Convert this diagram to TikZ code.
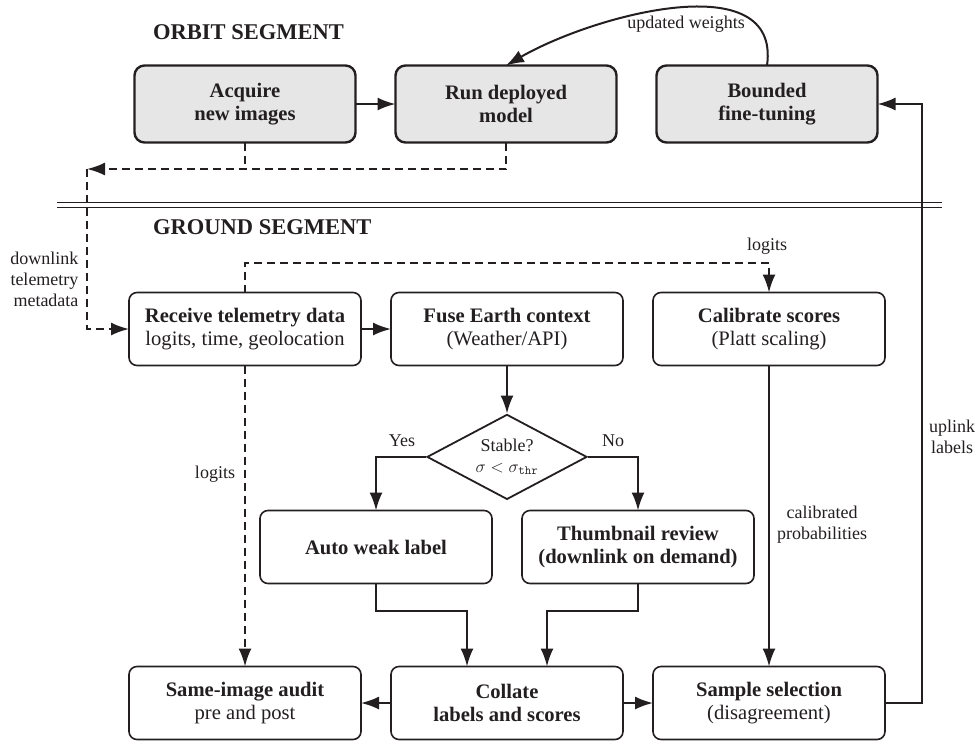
\documentclass[tikz,border=0pt]{standalone}
\usepackage{fontspec}
\setmainfont{Liberation Serif}
\usetikzlibrary{positioning,shapes.geometric,arrows.meta}
\definecolor{ink}{RGB}{35,31,32}
\definecolor{orbitfill}{RGB}{230,230,231}
\begin{document}
\begin{tikzpicture}[x=1pt,y=-1pt,
  orbitbox/.style={draw=ink, text=ink, line width=2.4pt, fill=orbitfill, rounded corners=10pt,
    minimum width=221pt, minimum height=77pt, align=center, outer sep=0pt,
    font=\fontsize{20.6}{23}\selectfont\bfseries},
  groundbox/.style={draw=ink, text=ink, line width=1.6pt, rounded corners=8pt,
    minimum width=232pt, minimum height=73pt, align=center, outer sep=0pt,
    font=\fontsize{20.6}{23}\selectfont},
  decision/.style={diamond, draw=ink, text=ink, line width=1.8pt, inner sep=0pt, aspect=1.88,
    minimum width=160pt, minimum height=85pt, align=center, font=\fontsize{18}{21}\selectfont},
  segment/.style={anchor=west, inner sep=0pt, text=ink, font=\fontsize{22.5}{27}\selectfont\bfseries},
  lbl/.style={text=ink, align=center, font=\fontsize{18}{21}\selectfont},
  flow/.style={draw=ink, line width=2pt, -{Latex[length=18pt,width=13pt]}},
  tele/.style={flow, dash pattern=on 8pt off 5pt}]
\useasboundingbox (0,0) rectangle (979,742);
\node (orbit) [segment] at (153,32) {ORBIT SEGMENT};
\node (acq) [orbitbox] at (245,104) {Acquire\\new images};
\node (run) [orbitbox, right=40pt of acq] {Run deployed\\model};
\node (bft) [orbitbox, right=40pt of run] {Bounded\\fine-tuning};
\coordinate (sepL) at (57,205);
\coordinate (sepR) at (942,205);
\draw [ink, line width=1.2pt, double distance=4.4pt] (sepL) -- (sepR);
\node (ground) [segment] at (153,227) {GROUND SEGMENT};
\node (recv) [groundbox] at (245,329) {\textbf{Receive telemetry data}\\logits, time, geolocation};
\node (fuse) [groundbox, right=30pt of recv] {\textbf{Fuse Earth context}\\(Weather/API)};
\node (calib) [groundbox, right=30pt of fuse] {\textbf{Calibrate scores}\\(Platt scaling)};
\node (stable) [decision, below=48pt of fuse] {Stable?\\$\sigma<\sigma_{\mathtt{thr}}$};
\node (auto) [groundbox] at (376,547) {\textbf{Auto weak label}};
\node (thumb) [groundbox, right=30pt of auto] {\textbf{Thumbnail review}\\\textbf{(downlink on demand)}};
\node (audit) [groundbox] at (245,703) {\textbf{Same-image audit}\\pre and post};
\node (coll) [groundbox, right=30pt of audit] {\textbf{Collate}\\\textbf{labels and scores}};
\node (samp) [groundbox, right=30pt of coll] {\textbf{Sample selection}\\(disagreement)};
\draw [flow] (acq) -- (run);
\draw [flow] (bft.north) to[out=82,in=30] (run.north);
\node (upw) [lbl] at (686,24) {updated weights};
\coordinate (dlk) at (87,169);
\draw [tele] (run.south) |- (dlk);
\draw [tele,-] (acq.south) -- (acq.south |- dlk);
\draw [tele] (dlk) |- (recv.west);
\node (dlbl) [lbl, anchor=east, align=right] at (82,279) {downlink\\telemetry\\metadata};
\draw [flow] (recv) -- (fuse);
\draw [tele] (recv.north) -- ++(0,-30) -| (calib.north);
\node (lgA) [lbl] at (767,246) {logits};
\draw [flow] (fuse) -- (stable);
\draw [flow] (stable.west) -| (auto.north);
\node (yes) [lbl] at (402,441) {Yes};
\draw [flow] (stable.east) -| (thumb.north);
\node (no) [lbl] at (613,441) {No};
\draw [flow] (auto.south) -- ++(0,27) -| ([xshift=-40pt]coll.north);
\draw [flow] (thumb.south) -- ++(0,27) -| ([xshift=40pt]coll.north);
\draw [flow] (coll) -- (audit);
\draw [flow] (coll) -- (samp);
\draw [tele] (recv) -- (audit);
\node (lgB) [lbl] at (215,474) {logits};
\draw [flow] (calib) -- (samp);
\node (cp) [lbl] at (822,525) {calibrated\\probabilities};
\draw [flow] (samp.east) -- ++(37,0) |- (bft.east);
\node (upl) [lbl] at (952,437) {uplink\\labels};
\end{tikzpicture}
\end{document}
